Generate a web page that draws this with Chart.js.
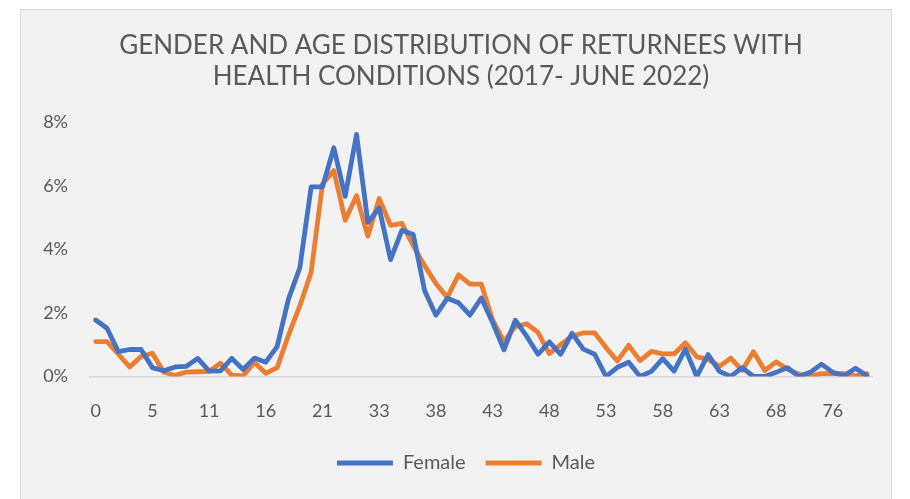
<!DOCTYPE html>
<html lang="en">
<head>
    <meta charset="UTF-8">
    <title>Returnees with health conditions</title>
    <script src="https://cdn.jsdelivr.net/npm/chart.js"></script>
    <style>
        body {
            margin: 0;
            background-color: #ffffff;
        }
        #panel {
            position: absolute;
            left: 20px;
            top: 9px;
            width: 872px;
            height: 492px;
            background-color: #f2f2f2;
            border: 1px solid #d9d9d9;
            box-sizing: border-box;
        }
    </style>
</head>
<body>
    <div id="panel">
        <canvas id="ageChart"></canvas>
    </div>

    <script>
        // Ages on the x axis (one entry per point)
        const ages = [
            0, 1, 2, 3, 4, 5, 6, 7, 8, 9, 11,
            12, 13, 14, 15, 16,
            17, 18, 19, 20, 21,
            23, 25, 28, 30, 33,
            34, 35, 36, 37, 38,
            39, 40, 41, 42, 43,
            44, 45, 46, 47, 48,
            49, 50, 51, 52, 53,
            54, 55, 56, 57, 58,
            59, 60, 61, 62, 63,
            64, 65, 66, 67, 68,
            69, 71, 73, 74, 76,
            77, 79, 80
        ];

        // Share of returnees per age, in %
        const female = [
            1.78, 1.52, 0.78, 0.85, 0.85, 0.28, 0.18, 0.30, 0.32, 0.57, 0.17,
            0.18, 0.57, 0.22, 0.58, 0.45,
            0.94, 2.44, 3.42, 5.97, 5.97,
            7.20, 5.67, 7.62, 4.85, 5.30,
            3.68, 4.60, 4.47, 2.71, 1.93,
            2.46, 2.32, 1.93, 2.47, 1.70,
            0.84, 1.77, 1.27, 0.70, 1.09,
            0.70, 1.36, 0.86, 0.70, 0.00,
            0.29, 0.45, 0.00, 0.16, 0.56,
            0.17, 0.86, 0.00, 0.69, 0.16,
            0.00, 0.28, 0.00, 0.00, 0.13,
            0.28, 0.00, 0.13, 0.39, 0.13,
            0.02, 0.26, 0.02
        ];
        const male = [
            1.10, 1.10, 0.70, 0.30, 0.63, 0.73, 0.14, 0.03, 0.14, 0.15, 0.16,
            0.42, 0.04, 0.02, 0.44, 0.10,
            0.28, 1.30, 2.22, 3.28, 6.06,
            6.48, 4.92, 5.69, 4.42, 5.60,
            4.76, 4.82, 4.12, 3.49, 2.93,
            2.49, 3.20, 2.91, 2.91, 1.78,
            1.10, 1.57, 1.66, 1.39, 0.72,
            1.00, 1.27, 1.37, 1.37, 0.91,
            0.49, 0.98, 0.50, 0.79, 0.71,
            0.71, 1.06, 0.62, 0.54, 0.32,
            0.58, 0.19, 0.78, 0.19, 0.46,
            0.23, 0.07, 0.02, 0.09, 0.09,
            0.09, 0.02, 0.09
        ];

        const yTicks = [0, 2, 4, 6, 8];

        const textColor = '#595959';
        const fontFamily = 'Lato, "Open Sans", sans-serif';

        // nudge title and legend to the right without moving the plot area
        const shiftBoxes = {
            id: 'shiftBoxes',
            afterLayout(chart) {
                chart.titleBlock.left += 14;
                chart.titleBlock.right += 14;
                chart.legend.left += 19;
                chart.legend.right += 19;
            }
        };

        const ctx = document.getElementById('ageChart').getContext('2d');
        new Chart(ctx, {
            type: 'line',
            data: {
                labels: ages,
                datasets: [{
                    label: 'Female',
                    data: female,
                    borderColor: '#4472c4',
                    backgroundColor: '#4472c4',
                    borderWidth: 4.8,
                    borderCapStyle: 'round',
                    borderJoinStyle: 'round',
                    pointRadius: 0,
                    tension: 0
                }, {
                    label: 'Male',
                    data: male,
                    borderColor: '#ed7d31',
                    backgroundColor: '#ed7d31',
                    borderWidth: 4.8,
                    borderCapStyle: 'round',
                    borderJoinStyle: 'round',
                    pointRadius: 0,
                    tension: 0
                }]
            },
            plugins: [shiftBoxes],
            options: {
                responsive: true,
                maintainAspectRatio: false,
                animation: false,
                layout: {
                    padding: { left: 0, right: 18, top: 0, bottom: 17 }
                },
                plugins: {
                    title: {
                        display: true,
                        text: ['GENDER AND AGE DISTRIBUTION OF RETURNEES WITH',
                               'HEALTH CONDITIONS (2017- JUNE 2022)'],
                        color: textColor,
                        font: { family: fontFamily, size: 26, weight: 'normal', lineHeight: 1.16 },
                        padding: { top: 21, bottom: 31 }
                    },
                    legend: {
                        position: 'bottom',
                        labels: {
                            color: textColor,
                            font: { family: fontFamily, size: 20 },
                            usePointStyle: true,
                            pointStyle: 'line',
                            pointStyleWidth: 56,
                            padding: 20
                        }
                    },
                    tooltip: { enabled: false }
                },
                scales: {
                    x: {
                        offset: true,
                        afterFit: function (scale) { scale.height = 56.5; },
                        grid: { display: false, drawTicks: false },
                        border: { display: true, color: '#d9d9d9', width: 1.5 },
                        ticks: {
                            color: textColor,
                            font: { family: fontFamily, size: 18 },
                            autoSkip: false,
                            maxRotation: 0,
                            minRotation: 0,
                            padding: 24,
                            callback: function (value, index) {
                                return index % 5 === 0 ? ages[index] : '';
                            }
                        }
                    },
                    y: {
                        min: 0,
                        max: 8,
                        afterFit: function (scale) { scale.width = 69; },
                        afterBuildTicks: function (scale) {
                            scale.ticks = yTicks.map(v => ({ value: v }));
                        },
                        grid: { display: false, drawTicks: false },
                        border: { display: false },
                        ticks: {
                            color: textColor,
                            font: { family: fontFamily, size: 18 },
                            padding: 22,
                            callback: v => v + '%'
                        }
                    }
                }
            }
        });
    </script>
</body>
</html>
